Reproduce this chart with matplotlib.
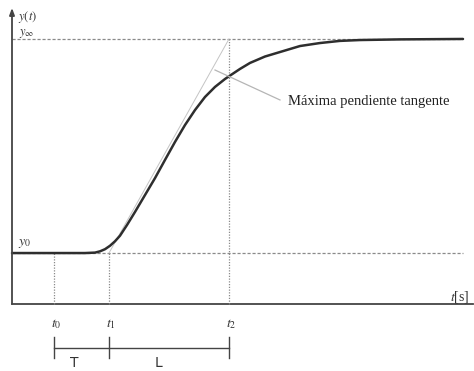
import matplotlib
matplotlib.use("Agg")
import matplotlib.pyplot as plt
import numpy as np

plt.rcParams['mathtext.fontset'] = 'stix'
plt.rcParams['font.family'] = ['Liberation Serif', 'DejaVu Serif']

# Time marks (s) and response levels (normalized)
t_marks = {"t0": 2.1, "t1": 4.85, "t2": 10.85}
y0_level = 0.0
yinf_level = 1.0

# Step response curve
t_curve = [0.0, 3.65, 4.15, 4.4, 4.65, 4.9, 5.15, 5.4, 5.75, 6.15, 6.65, 7.15, 7.65,
           8.15, 8.65, 9.15, 9.65, 10.15, 10.65, 10.95, 11.4, 11.9, 12.65,
           13.4, 14.4, 15.4, 16.4, 17.4, 19.4, 22.55]
y_curve = [0.0, 0.0, 0.002, 0.008, 0.018, 0.034, 0.055, 0.081, 0.131, 0.192, 0.271, 0.350,
           0.435, 0.519, 0.598, 0.668, 0.729, 0.776, 0.813, 0.832, 0.860,
           0.888, 0.918, 0.939, 0.967, 0.981, 0.991, 0.995, 0.998, 1.0]

t_end = 22.55
t_axis_end = 23.05
y_axis_bottom = -0.238
y_axis_top = 1.145

fig = plt.figure(figsize=(4.74, 3.71), dpi=100)
ax = fig.add_axes([0, 0, 1, 1])
ax.set_xlim(-0.6, 23.1)
ax.set_ylim(-0.551, 1.182)
ax.axis('off')

axis_col = '#444444'
ref_col = '#8a8a8a'

# axes
ax.plot([0, t_axis_end], [y_axis_bottom, y_axis_bottom], color=axis_col, lw=1.3)
ax.annotate('', xy=(0, y_axis_top), xytext=(0, y_axis_bottom),
            arrowprops=dict(arrowstyle='-|>,head_length=0.4,head_width=0.15',
                            color=axis_col, lw=1.3, shrinkA=0, shrinkB=0))

# reference levels
ax.plot([0, t_end], [yinf_level, yinf_level], color=ref_col, lw=0.9, ls=(0, (2.5, 1.5)))
ax.plot([0, t_end], [y0_level, y0_level], color=ref_col, lw=0.9, ls=(0, (2.5, 1.5)))

# vertical markers
for k in ("t0", "t1"):
    ax.plot([t_marks[k]] * 2, [y_axis_bottom, y0_level], color=ref_col, lw=0.9, ls=(0, (1, 1.2)))
ax.plot([t_marks["t2"]] * 2, [y_axis_bottom, yinf_level], color=ref_col, lw=0.9, ls=(0, (1, 1.2)))

# tangent line
ax.plot([t_marks["t1"], t_marks["t2"]], [y0_level, yinf_level], color='#c4c4c4', lw=0.7)

# curve
ax.plot(t_curve, y_curve, color='#2e2e2e', lw=1.8, solid_capstyle='round',
        solid_joinstyle='round')

# annotation
ax.plot([10.15, 13.4], [0.855, 0.715], color='#b5b5b5', lw=0.9)
ax.text(13.8, 0.706, 'Máxima pendiente tangente', fontsize=10.5, color='#222222',
        va='center', ha='left')

# labels
txtc = '#333333'
ax.text(0.3, 1.103, r'$y(t)$', fontsize=9, color=txtc, va='center', ha='left')
ax.text(0.35, 1.019, r'$y_\infty$', fontsize=9, color=txtc, va='baseline', ha='left')
ax.text(0.3, 0.012, r'$y_0$', fontsize=10, color=txtc, va='bottom', ha='left')
ax.text(21.9, -0.206, r'$t$[s]', fontsize=10, color=txtc, va='center', ha='left')
for k, lab in (("t0", r'$t_0$'), ("t1", r'$t_1$'), ("t2", r'$t_2$')):
    ax.text(t_marks[k] + 0.1, -0.332, lab, fontsize=10, color=txtc, va='center', ha='center')

# T / L brackets
yb = -0.444
ax.plot([t_marks["t0"], t_marks["t2"]], [yb, yb], color=axis_col, lw=1.0)
for k in ("t0", "t1", "t2"):
    ax.plot([t_marks[k]] * 2, [-0.393, -0.491], color=axis_col, lw=1.0)
ax.text(3.1, -0.515, 'T', fontsize=10, color=txtc,
        va='center', ha='center', family='DejaVu Sans')
ax.text(7.3, -0.515, 'L', fontsize=10, color=txtc,
        va='center', ha='center', family='DejaVu Sans')

fig.savefig('out.png', dpi=100, facecolor='white')
